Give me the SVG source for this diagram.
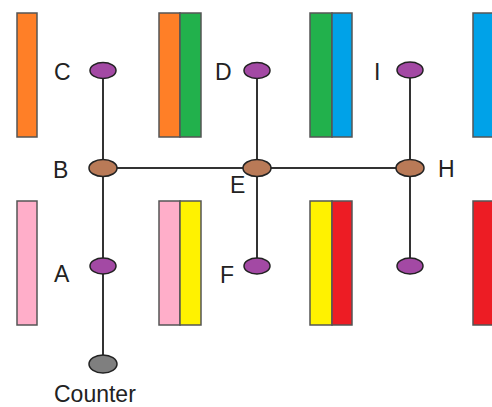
<svg xmlns="http://www.w3.org/2000/svg" width="492" height="407" viewBox="0 0 492 407">
  <style>
    .bar { stroke: #555; stroke-width: 1.5; }
    .wire { stroke: #333; stroke-width: 2; fill: none; }
    .node { stroke: #222; stroke-width: 1.5; }
    .leaf { fill: #A349A4; }
    .junction { fill: #B97A57; }
    .root { fill: #7F7F7F; }
    .label { font-family: "Liberation Sans", Arial, sans-serif; font-size: 23px; fill: #222; }
  </style>
  <rect width="492" height="407" fill="#fff"/>

  <!-- colour bars -->
  <g id="bars">
    <rect class="bar" x="17" y="13" width="20" height="124" fill="#FF7F27"/>
    <rect class="bar" x="159" y="13" width="21" height="124" fill="#FF7F27"/>
    <rect class="bar" x="180" y="13" width="21" height="124" fill="#22B14C"/>
    <rect class="bar" x="310" y="13" width="22" height="124" fill="#22B14C"/>
    <rect class="bar" x="332" y="13" width="20" height="124" fill="#00A2E8"/>
    <rect class="bar" x="473" y="13" width="30" height="124" fill="#00A2E8"/>

    <rect class="bar" x="17" y="201" width="20" height="124" fill="#FFAEC9"/>
    <rect class="bar" x="159" y="201" width="21" height="124" fill="#FFAEC9"/>
    <rect class="bar" x="180" y="201" width="21" height="124" fill="#FFF200"/>
    <rect class="bar" x="310" y="201" width="22" height="124" fill="#FFF200"/>
    <rect class="bar" x="332" y="201" width="20" height="124" fill="#ED1C24"/>
    <rect class="bar" x="473" y="201" width="30" height="124" fill="#ED1C24"/>
  </g>

  <!-- connectors -->
  <g id="connectors">
    <line class="wire" x1="103" y1="70" x2="103" y2="364"/>
    <line class="wire" x1="257" y1="70" x2="257" y2="266"/>
    <line class="wire" x1="410" y1="70" x2="410" y2="266"/>
    <line class="wire" x1="103" y1="168" x2="410" y2="168"/>
  </g>

  <g id="node-C">
    <ellipse class="node leaf" cx="103" cy="70.5" rx="13" ry="8"/>
    <text class="label" x="54" y="80">C</text>
  </g>
  <g id="node-D">
    <ellipse class="node leaf" cx="257" cy="70.5" rx="13" ry="8"/>
    <text class="label" x="215" y="80">D</text>
  </g>
  <g id="node-I">
    <ellipse class="node leaf" cx="410" cy="70" rx="13" ry="8"/>
    <text class="label" x="374" y="80">I</text>
  </g>
  <g id="node-B">
    <ellipse class="node junction" cx="103" cy="168" rx="14" ry="8.5"/>
    <text class="label" x="53" y="178">B</text>
  </g>
  <g id="node-E">
    <ellipse class="node junction" cx="257" cy="168" rx="14" ry="8.5"/>
    <text class="label" x="230" y="193">E</text>
  </g>
  <g id="node-H">
    <ellipse class="node junction" cx="410" cy="168" rx="14" ry="8.5"/>
    <text class="label" x="438" y="177">H</text>
  </g>
  <g id="node-A">
    <ellipse class="node leaf" cx="103" cy="266" rx="13" ry="8"/>
    <text class="label" x="54" y="282">A</text>
  </g>
  <g id="node-F">
    <ellipse class="node leaf" cx="257" cy="266" rx="13" ry="8"/>
    <text class="label" x="220" y="283">F</text>
  </g>
  <g id="node-G">
    <ellipse class="node leaf" cx="410" cy="266" rx="13" ry="8"/>
  </g>
  <g id="node-counter">
    <ellipse class="node root" cx="103" cy="364" rx="14" ry="9"/>
    <text class="label" x="54" y="402">Counter</text>
  </g>
</svg>
